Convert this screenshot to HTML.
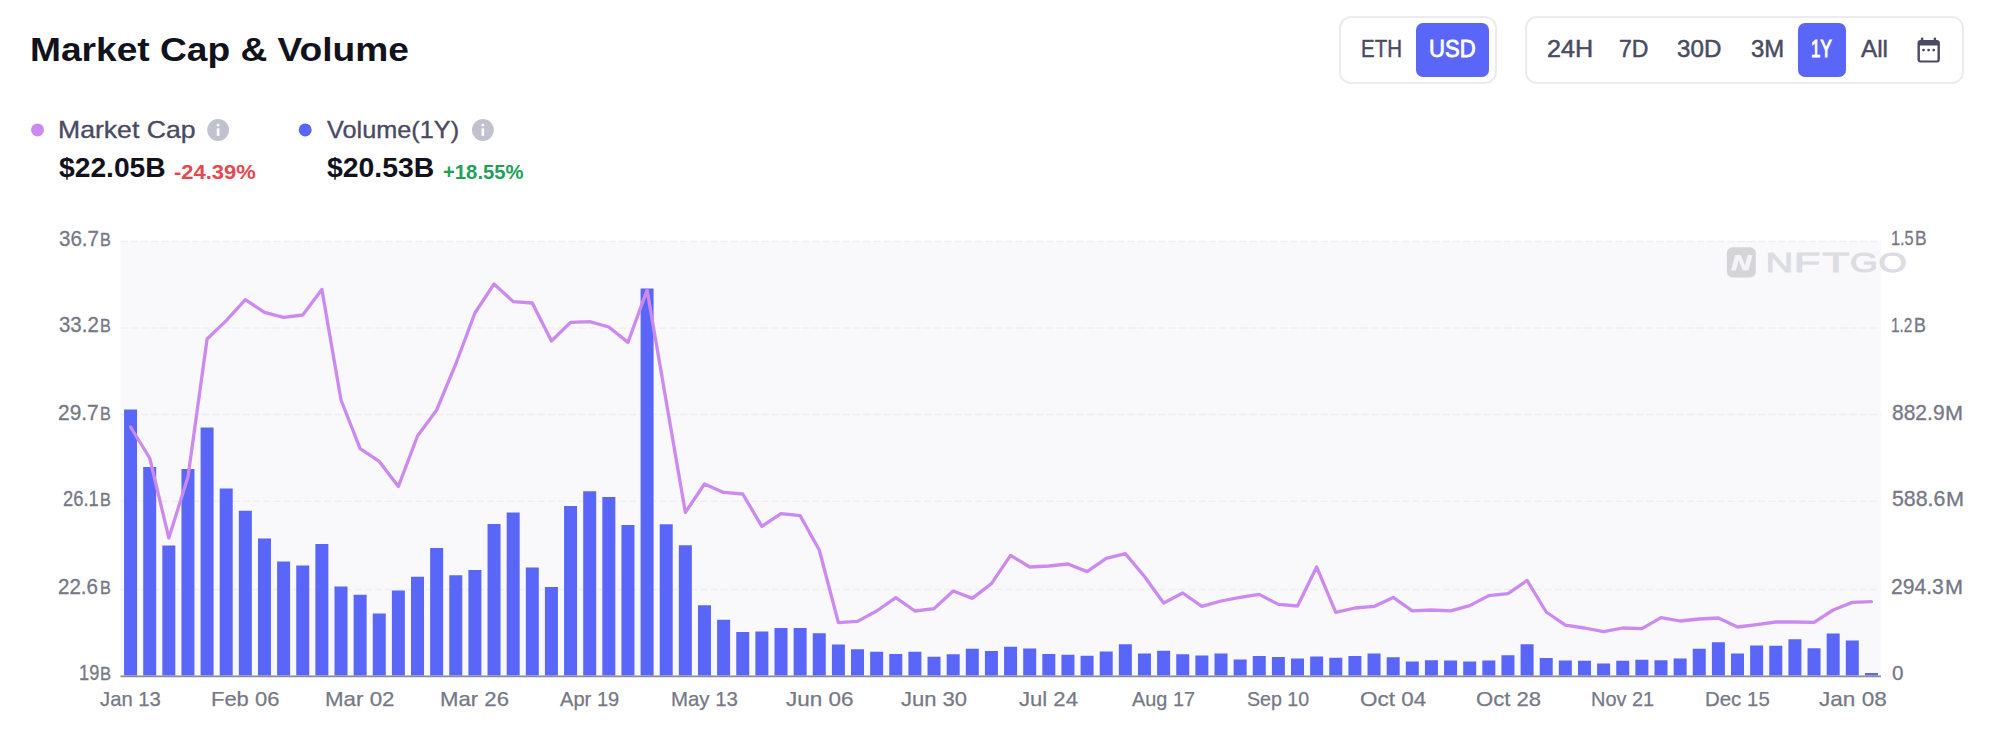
<!DOCTYPE html>
<html lang="en"><head><meta charset="utf-8"><title>Market Cap &amp; Volume</title>
<style>
html,body{margin:0;padding:0;background:#fff}
body{width:2000px;height:751px;position:relative;overflow:hidden;font-family:'Liberation Sans', sans-serif}
.t{position:absolute;white-space:nowrap;line-height:1;transform-origin:left top;display:block}
.box{position:absolute;box-sizing:border-box;border:2px solid #ececf0;border-radius:12px;background:#fff}
.btn{position:absolute;background:#5966f8;border-radius:7px}
svg{position:absolute;left:0;top:0}
</style></head><body>
<div class="box" style="left:1338.5px;top:16.2px;width:158.3px;height:67.5px"></div>
<div class="box" style="left:1525.2px;top:16.2px;width:438.6px;height:67.5px"></div>
<div class="btn" style="left:1415.8px;top:23px;width:73.5px;height:54px"></div>
<div class="btn" style="left:1797.8px;top:23px;width:48.2px;height:54px"></div>
<svg width="2000" height="751" viewBox="0 0 2000 751">
<rect x="120.5" y="241.4" width="1760.5" height="434.6" fill="#f9f9fb"/>
<line x1="120.5" y1="241.4" x2="1881.0" y2="241.4" stroke="#efeff3" stroke-width="1.5" stroke-dasharray="7.6 2.57"/>
<line x1="120.5" y1="327.9" x2="1881.0" y2="327.9" stroke="#efeff3" stroke-width="1.5" stroke-dasharray="7.6 2.57"/>
<line x1="120.5" y1="414.6" x2="1881.0" y2="414.6" stroke="#efeff3" stroke-width="1.5" stroke-dasharray="7.6 2.57"/>
<line x1="120.5" y1="501.2" x2="1881.0" y2="501.2" stroke="#efeff3" stroke-width="1.5" stroke-dasharray="7.6 2.57"/>
<line x1="120.5" y1="589.5" x2="1881.0" y2="589.5" stroke="#efeff3" stroke-width="1.5" stroke-dasharray="7.6 2.57"/>
<path d="M124.07 675.5V409.4h13.0V675.5zM143.20 675.5V467h13.0V675.5zM162.33 675.5V545.4h13.0V675.5zM181.46 675.5V469h13.0V675.5zM200.59 675.5V427.4h13.0V675.5zM219.72 675.5V488.6h13.0V675.5zM238.85 675.5V510.8h13.0V675.5zM257.98 675.5V538.4h13.0V675.5zM277.11 675.5V561.6h13.0V675.5zM296.24 675.5V565.4h13.0V675.5zM315.37 675.5V544h13.0V675.5zM334.50 675.5V586.6h13.0V675.5zM353.63 675.5V594.8h13.0V675.5zM372.76 675.5V613.6h13.0V675.5zM391.89 675.5V590.6h13.0V675.5zM411.02 675.5V576.8h13.0V675.5zM430.15 675.5V548h13.0V675.5zM449.28 675.5V575.2h13.0V675.5zM468.41 675.5V570h13.0V675.5zM487.54 675.5V524h13.0V675.5zM506.67 675.5V512.4h13.0V675.5zM525.80 675.5V567.6h13.0V675.5zM544.93 675.5V587h13.0V675.5zM564.07 675.5V506h13.0V675.5zM583.20 675.5V491.2h13.0V675.5zM602.33 675.5V497h13.0V675.5zM621.46 675.5V525h13.0V675.5zM640.59 675.5V288.4h13.0V675.5zM659.72 675.5V524.2h13.0V675.5zM678.85 675.5V545.2h13.0V675.5zM697.98 675.5V605.2h13.0V675.5zM717.11 675.5V619.8h13.0V675.5zM736.24 675.5V632h13.0V675.5zM755.37 675.5V631.4h13.0V675.5zM774.50 675.5V628h13.0V675.5zM793.63 675.5V628h13.0V675.5zM812.76 675.5V633.2h13.0V675.5zM831.89 675.5V644.4h13.0V675.5zM851.02 675.5V649.2h13.0V675.5zM870.15 675.5V651.8h13.0V675.5zM889.28 675.5V654h13.0V675.5zM908.41 675.5V651.8h13.0V675.5zM927.54 675.5V656.8h13.0V675.5zM946.67 675.5V654.2h13.0V675.5zM965.80 675.5V648.8h13.0V675.5zM984.93 675.5V651h13.0V675.5zM1004.07 675.5V646.8h13.0V675.5zM1023.20 675.5V648.4h13.0V675.5zM1042.33 675.5V654h13.0V675.5zM1061.46 675.5V654.8h13.0V675.5zM1080.59 675.5V655.8h13.0V675.5zM1099.72 675.5V651.4h13.0V675.5zM1118.85 675.5V644.2h13.0V675.5zM1137.98 675.5V653.4h13.0V675.5zM1157.11 675.5V650.8h13.0V675.5zM1176.24 675.5V654.2h13.0V675.5zM1195.37 675.5V655.6h13.0V675.5zM1214.50 675.5V653.6h13.0V675.5zM1233.63 675.5V659.6h13.0V675.5zM1252.76 675.5V656h13.0V675.5zM1271.89 675.5V657h13.0V675.5zM1291.02 675.5V658.6h13.0V675.5zM1310.15 675.5V656.6h13.0V675.5zM1329.28 675.5V657.8h13.0V675.5zM1348.41 675.5V656h13.0V675.5zM1367.54 675.5V653.6h13.0V675.5zM1386.67 675.5V657.2h13.0V675.5zM1405.80 675.5V661.6h13.0V675.5zM1424.93 675.5V660.2h13.0V675.5zM1444.07 675.5V660.6h13.0V675.5zM1463.20 675.5V661.4h13.0V675.5zM1482.33 675.5V660.6h13.0V675.5zM1501.46 675.5V655.2h13.0V675.5zM1520.59 675.5V644.2h13.0V675.5zM1539.72 675.5V658h13.0V675.5zM1558.85 675.5V660.4h13.0V675.5zM1577.98 675.5V660.8h13.0V675.5zM1597.11 675.5V663.6h13.0V675.5zM1616.24 675.5V660.8h13.0V675.5zM1635.37 675.5V659.8h13.0V675.5zM1654.50 675.5V660.2h13.0V675.5zM1673.63 675.5V658.4h13.0V675.5zM1692.76 675.5V648.8h13.0V675.5zM1711.89 675.5V642.2h13.0V675.5zM1731.02 675.5V653.6h13.0V675.5zM1750.15 675.5V645.4h13.0V675.5zM1769.28 675.5V645.8h13.0V675.5zM1788.41 675.5V639.2h13.0V675.5zM1807.54 675.5V648.2h13.0V675.5zM1826.67 675.5V633.4h13.0V675.5zM1845.80 675.5V640.6h13.0V675.5zM1864.93 675.5V673h13.0V675.5z" fill="#5966f8"/>
<line x1="120.5" y1="676.4" x2="1881.0" y2="676.4" stroke="#8a8a9b" stroke-width="1.6"/>
<polyline points="130.57,427 149.70,458 168.83,538 187.96,477 207.09,339 226.22,320.6 245.35,299.6 264.48,312.4 283.61,317.4 302.74,315 321.87,289.4 341.00,400 360.13,448.6 379.26,461.4 398.39,486.4 417.52,436 436.65,410 455.78,364 474.91,313 494.04,284 513.17,301.6 532.30,303 551.43,341 570.57,322.4 589.70,321.6 608.83,327 627.96,342.4 647.09,290 666.22,401.5 685.35,512.4 704.48,484 723.61,492.4 742.74,494 761.87,526.4 781.00,513.6 800.13,515.6 819.26,550 838.39,622.6 857.52,621.4 876.65,611 895.78,597.6 914.91,611 934.04,608.6 953.17,591 972.30,598.4 991.43,583.6 1010.57,555.4 1029.70,567 1048.83,566 1067.96,564 1087.09,571.6 1106.22,558.4 1125.35,553.6 1144.48,576.5 1163.61,603 1182.74,593 1201.87,606.4 1221.00,601 1240.13,597.4 1259.26,594.4 1278.39,604.4 1297.52,606 1316.65,567 1335.78,612.4 1354.91,608 1374.04,606.4 1393.17,597.4 1412.30,610.8 1431.43,610 1450.57,610.8 1469.70,605.6 1488.83,595.6 1507.96,593.6 1527.09,580.4 1546.22,612 1565.35,625.2 1584.48,628 1603.61,631.6 1622.74,628 1641.87,628.6 1661.00,617.6 1680.13,621 1699.26,619 1718.39,618 1737.52,627 1756.65,624.6 1775.78,622 1794.91,622 1814.04,622.4 1833.17,610 1852.30,602.4 1871.43,601.6" fill="none" stroke="#cc8af0" stroke-width="3.3" stroke-linejoin="round" stroke-linecap="round"/>
<g><rect x="1726.8" y="247.2" width="29" height="30.3" rx="5.8" fill="#d5d5d9"/><path d="M1731 270.5 L1735.2 255 L1740.6 255 L1745 265.2 L1747.7 255 L1752.6 255 L1748.4 270.5 L1743 270.5 L1738.6 260.3 L1735.9 270.5 Z" fill="#f4f4f7"/><text y="272.1" font-family="Liberation Sans, sans-serif" font-weight="400" font-size="27.2" fill="#dcdce3" stroke="#dcdce3" stroke-width="0.9" stroke-linejoin="miter"><tspan x="1765.6" textLength="27.8" lengthAdjust="spacingAndGlyphs">N</tspan><tspan x="1793.8" textLength="26.6" lengthAdjust="spacingAndGlyphs">F</tspan><tspan x="1822.6" textLength="26.8" lengthAdjust="spacingAndGlyphs">T</tspan><tspan x="1850.1" textLength="27.8" lengthAdjust="spacingAndGlyphs">G</tspan><tspan x="1878.6" textLength="28.3" lengthAdjust="spacingAndGlyphs">O</tspan></text></g>
<g fill="#4a4a63"><path fill-rule="evenodd" d="M1920.7 39.9h16a3.2 3.2 0 0 1 3.2 3.2v16.2a3.2 3.2 0 0 1-3.2 3.2h-16a3.2 3.2 0 0 1-3.2-3.2v-16.2a3.2 3.2 0 0 1 3.2-3.2z M1919.9 45.6v13.9a.9.9 0 0 0 .9.9h15.8a.9.9 0 0 0 .9-.9V45.6z"/><rect x="1920.9" y="37.4" width="2.4" height="4.5" rx="1.1"/><rect x="1933.7" y="37.4" width="2.4" height="4.5" rx="1.1"/><circle cx="1923.5" cy="50.1" r="1.4"/><circle cx="1928.6" cy="50.1" r="1.4"/><circle cx="1933.75" cy="50.1" r="1.4"/></g>
<circle cx="37.5" cy="129.9" r="6.5" fill="#cc8af0"/><circle cx="305.2" cy="129.9" r="6.5" fill="#5966f8"/>
<circle cx="218.1" cy="130" r="10.9" fill="#c1c2d0"/><circle cx="218.1" cy="125.1" r="1.45" fill="#fff"/><rect x="216.79999999999998" y="128.4" width="2.6" height="7.4" fill="#fff"/>
<circle cx="482.9" cy="130" r="10.9" fill="#c1c2d0"/><circle cx="482.9" cy="125.1" r="1.45" fill="#fff"/><rect x="481.59999999999997" y="128.4" width="2.6" height="7.4" fill="#fff"/>
</svg>
<main class="labels">
<span class="t" style="left:29.98px;top:33.40px;font-size:33.5px;font-weight:700;color:#12121c;transform:scaleX(1.1083);">Market Cap &amp; Volume</span>
<span class="t" style="left:57.79px;top:117.50px;font-size:24px;font-weight:400;color:#4a4a63;transform:scaleX(1.1084);-webkit-text-stroke:0.35px #4a4a63;">Market Cap</span>
<span class="t" style="left:326.90px;top:117.50px;font-size:24px;font-weight:400;color:#4a4a63;transform:scaleX(1.0531);-webkit-text-stroke:0.35px #4a4a63;">Volume(1Y)</span>
<span class="t" style="left:59.30px;top:154.40px;font-size:27.5px;font-weight:700;color:#12121c;transform:scaleX(1.0261);">$22.05B</span>
<span class="t" style="left:326.90px;top:154.40px;font-size:27.5px;font-weight:700;color:#12121c;transform:scaleX(1.0319);">$20.53B</span>
<span class="t" style="left:174.30px;top:162.10px;font-size:20.7px;font-weight:700;color:#e5484f;transform:scaleX(1.0619);">-24.39%</span>
<span class="t" style="left:443.10px;top:162.10px;font-size:20.7px;font-weight:700;color:#22a05a;transform:scaleX(0.9798);">+18.55%</span>
<span class="t" style="left:1360.75px;top:37.40px;font-size:24px;font-weight:400;color:#4a4a63;transform:scaleX(0.8540);-webkit-text-stroke:0.5px #4a4a63;">ETH</span>
<span class="t" style="left:1429.08px;top:37.40px;font-size:24px;font-weight:400;color:#ffffff;transform:scaleX(0.9201);-webkit-text-stroke:0.8px #ffffff;">USD</span>
<span class="t" style="left:1546.75px;top:37.40px;font-size:24px;font-weight:400;color:#4a4a63;transform:scaleX(1.0481);-webkit-text-stroke:0.5px #4a4a63;">24H</span>
<span class="t" style="left:1619.24px;top:37.40px;font-size:24px;font-weight:400;color:#4a4a63;transform:scaleX(0.9609);-webkit-text-stroke:0.5px #4a4a63;">7D</span>
<span class="t" style="left:1677.40px;top:37.40px;font-size:24px;font-weight:400;color:#4a4a63;transform:scaleX(1.0070);-webkit-text-stroke:0.5px #4a4a63;">30D</span>
<span class="t" style="left:1750.90px;top:37.40px;font-size:24px;font-weight:400;color:#4a4a63;transform:scaleX(0.9954);-webkit-text-stroke:0.5px #4a4a63;">3M</span>
<span class="t" style="left:1811.19px;top:37.40px;font-size:24px;font-weight:400;color:#ffffff;transform:scaleX(0.7055);-webkit-text-stroke:1.1px #ffffff;">1Y</span>
<span class="t" style="left:1860.70px;top:37.40px;font-size:24px;font-weight:400;color:#4a4a63;transform:scaleX(1.0103);-webkit-text-stroke:0.5px #4a4a63;">All</span>
<span class="t" style="left:58.60px;top:227.70px;font-size:21.7px;font-weight:400;color:#767886;transform:scaleX(0.9478);-webkit-text-stroke:0.3px #767886;">36.7</span>
<span class="t" style="left:99.75px;top:229.70px;font-size:19px;font-weight:400;color:#767886;transform:scaleX(0.8545);-webkit-text-stroke:0.35px #767886;">B</span>
<span class="t" style="left:58.80px;top:314.40px;font-size:21.7px;font-weight:400;color:#767886;transform:scaleX(0.9429);-webkit-text-stroke:0.3px #767886;">33.2</span>
<span class="t" style="left:99.75px;top:316.40px;font-size:19px;font-weight:400;color:#767886;transform:scaleX(0.8545);-webkit-text-stroke:0.35px #767886;">B</span>
<span class="t" style="left:57.94px;top:401.80px;font-size:21.7px;font-weight:400;color:#767886;transform:scaleX(0.9639);-webkit-text-stroke:0.3px #767886;">29.7</span>
<span class="t" style="left:99.75px;top:403.80px;font-size:19px;font-weight:400;color:#767886;transform:scaleX(0.8545);-webkit-text-stroke:0.35px #767886;">B</span>
<span class="t" style="left:62.75px;top:488.30px;font-size:21.7px;font-weight:400;color:#767886;transform:scaleX(0.8469);-webkit-text-stroke:0.3px #767886;">26.1</span>
<span class="t" style="left:99.75px;top:490.30px;font-size:19px;font-weight:400;color:#767886;transform:scaleX(0.8545);-webkit-text-stroke:0.35px #767886;">B</span>
<span class="t" style="left:57.65px;top:575.80px;font-size:21.7px;font-weight:400;color:#767886;transform:scaleX(0.9478);-webkit-text-stroke:0.3px #767886;">22.6</span>
<span class="t" style="left:99.75px;top:577.80px;font-size:19px;font-weight:400;color:#767886;transform:scaleX(0.8545);-webkit-text-stroke:0.35px #767886;">B</span>
<span class="t" style="left:78.75px;top:663.00px;font-size:21.5px;font-weight:400;color:#767886;transform:scaleX(0.8471);-webkit-text-stroke:0.3px #767886;">19</span>
<span class="t" style="left:99.53px;top:664.00px;font-size:19px;font-weight:400;color:#767886;transform:scaleX(0.8727);-webkit-text-stroke:0.35px #767886;">B</span>
<span class="t" style="left:1890.82px;top:227.20px;font-size:21.0px;font-weight:400;color:#767886;transform:scaleX(0.7778);-webkit-text-stroke:0.3px #767886;">1.5</span>
<span class="t" style="left:1915.31px;top:229.20px;font-size:19.5px;font-weight:400;color:#767886;transform:scaleX(0.8909);-webkit-text-stroke:0.35px #767886;">B</span>
<span class="t" style="left:1890.87px;top:313.90px;font-size:21.0px;font-weight:400;color:#767886;transform:scaleX(0.7342);-webkit-text-stroke:0.3px #767886;">1.2</span>
<span class="t" style="left:1914.09px;top:315.90px;font-size:19.5px;font-weight:400;color:#767886;transform:scaleX(0.9091);-webkit-text-stroke:0.35px #767886;">B</span>
<span class="t" style="left:1891.80px;top:401.80px;font-size:21.7px;font-weight:400;color:#767886;transform:scaleX(0.9685);-webkit-text-stroke:0.3px #767886;">882.9</span>
<span class="t" style="left:1945.45px;top:402.80px;font-size:20.5px;font-weight:400;color:#767886;transform:scaleX(1.0533);-webkit-text-stroke:0.35px #767886;">M</span>
<span class="t" style="left:1891.80px;top:488.40px;font-size:21.7px;font-weight:400;color:#767886;transform:scaleX(0.9832);-webkit-text-stroke:0.3px #767886;">588.6</span>
<span class="t" style="left:1946.25px;top:489.40px;font-size:20.5px;font-weight:400;color:#767886;transform:scaleX(1.0533);-webkit-text-stroke:0.35px #767886;">M</span>
<span class="t" style="left:1890.83px;top:575.80px;font-size:21.7px;font-weight:400;color:#767886;transform:scaleX(0.9735);-webkit-text-stroke:0.3px #767886;">294.3</span>
<span class="t" style="left:1944.75px;top:576.80px;font-size:20.5px;font-weight:400;color:#767886;transform:scaleX(1.0533);-webkit-text-stroke:0.35px #767886;">M</span>
<span class="t" style="left:1891.90px;top:661.90px;font-size:21px;font-weight:400;color:#767886;transform:scaleX(0.9818);-webkit-text-stroke:0.3px #767886;">0</span>
<span class="t" style="left:100.22px;top:688.90px;font-size:20.8px;font-weight:400;color:#767886;transform:scaleX(0.9745);-webkit-text-stroke:0.25px #767886;">Jan 13</span>
<span class="t" style="left:210.74px;top:688.90px;font-size:20.8px;font-weight:400;color:#767886;transform:scaleX(1.0557);-webkit-text-stroke:0.25px #767886;">Feb 06</span>
<span class="t" style="left:324.96px;top:688.90px;font-size:20.8px;font-weight:400;color:#767886;transform:scaleX(1.0735);-webkit-text-stroke:0.25px #767886;">Mar 02</span>
<span class="t" style="left:440.00px;top:688.90px;font-size:20.8px;font-weight:400;color:#767886;transform:scaleX(1.0655);-webkit-text-stroke:0.25px #767886;">Mar 26</span>
<span class="t" style="left:560.15px;top:688.90px;font-size:20.8px;font-weight:400;color:#767886;transform:scaleX(0.9669);-webkit-text-stroke:0.25px #767886;">Apr 19</span>
<span class="t" style="left:670.60px;top:688.90px;font-size:20.8px;font-weight:400;color:#767886;transform:scaleX(0.9815);-webkit-text-stroke:0.25px #767886;">May 13</span>
<span class="t" style="left:785.61px;top:688.90px;font-size:20.8px;font-weight:400;color:#767886;transform:scaleX(1.0812);-webkit-text-stroke:0.25px #767886;">Jun 06</span>
<span class="t" style="left:901.09px;top:688.90px;font-size:20.8px;font-weight:400;color:#767886;transform:scaleX(1.0586);-webkit-text-stroke:0.25px #767886;">Jun 30</span>
<span class="t" style="left:1019.48px;top:688.90px;font-size:20.8px;font-weight:400;color:#767886;transform:scaleX(1.0614);-webkit-text-stroke:0.25px #767886;">Jul 24</span>
<span class="t" style="left:1132.16px;top:688.90px;font-size:20.8px;font-weight:400;color:#767886;transform:scaleX(0.9564);-webkit-text-stroke:0.25px #767886;">Aug 17</span>
<span class="t" style="left:1247.39px;top:688.90px;font-size:20.8px;font-weight:400;color:#767886;transform:scaleX(0.9426);-webkit-text-stroke:0.25px #767886;">Sep 10</span>
<span class="t" style="left:1360.22px;top:688.90px;font-size:20.8px;font-weight:400;color:#767886;transform:scaleX(1.0791);-webkit-text-stroke:0.25px #767886;">Oct 04</span>
<span class="t" style="left:1475.51px;top:688.90px;font-size:20.8px;font-weight:400;color:#767886;transform:scaleX(1.0627);-webkit-text-stroke:0.25px #767886;">Oct 28</span>
<span class="t" style="left:1590.78px;top:688.90px;font-size:20.8px;font-weight:400;color:#767886;transform:scaleX(0.9576);-webkit-text-stroke:0.25px #767886;">Nov 21</span>
<span class="t" style="left:1704.74px;top:688.90px;font-size:20.8px;font-weight:400;color:#767886;transform:scaleX(0.9825);-webkit-text-stroke:0.25px #767886;">Dec 15</span>
<span class="t" style="left:1818.55px;top:688.90px;font-size:20.8px;font-weight:400;color:#767886;transform:scaleX(1.0844);-webkit-text-stroke:0.25px #767886;">Jan 08</span>
</main>
</body></html>
